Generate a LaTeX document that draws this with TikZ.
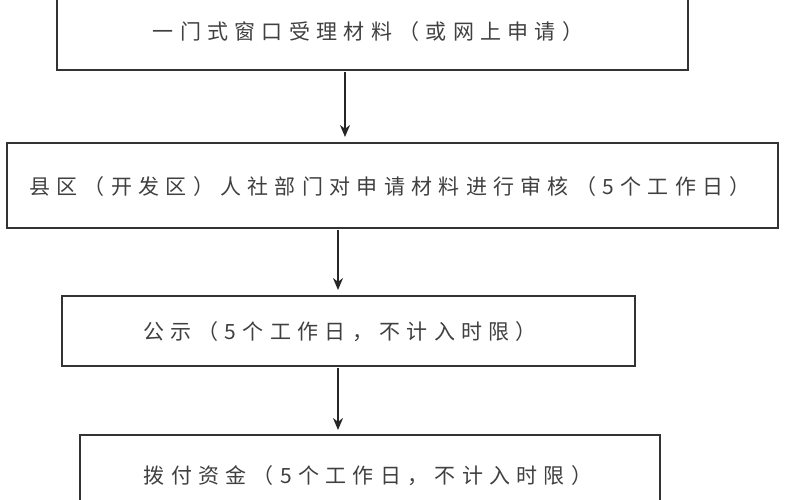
\documentclass[tikz,border=0pt]{standalone}
\usepackage{fontspec}
\newfontfamily\cjk[LetterSpace=30]{Noto Sans CJK SC}
\usetikzlibrary{arrows.meta}
\begin{document}
\begin{tikzpicture}[x=1pt,y=-1pt,
  box/.style={draw=black!80,line width=1.5pt,inner sep=0pt},
  lab/.style={font=\cjk\fontsize{21}{24}\selectfont,text=black!75},
  arr/.style={-{Stealth[length=12pt,width=10pt]},line width=2.2pt,draw=black!85}]
\useasboundingbox (0,0) rectangle (800,500);
\draw[box] (57,-5) rectangle (688,70);
\node[lab] (t1) at (368,32) {一门式窗口受理材料（或网上申请）};
\draw[box] (7,143) rectangle (778,228);
\node[lab] (t2) at (390,187) {县区（开发区）人社部门对申请材料进行审核（5个工作日）};
\draw[box] (62,296) rectangle (635,366);
\node[lab] (t3) at (340,332) {公示（5个工作日，不计入时限）};
\draw[box] (80,435) rectangle (660,510);
\node[lab] (t4) at (368,476) {拨付资金（5个工作日，不计入时限）};
\coordinate (a1) at (345,72); \coordinate (b1) at (345,137);
\coordinate (a2) at (338,230); \coordinate (b2) at (338,290);
\coordinate (a3) at (338,368); \coordinate (b3) at (338,430);
\draw[arr] (a1) -- (b1);
\draw[arr] (a2) -- (b2);
\draw[arr] (a3) -- (b3);
\end{tikzpicture}
\end{document}
